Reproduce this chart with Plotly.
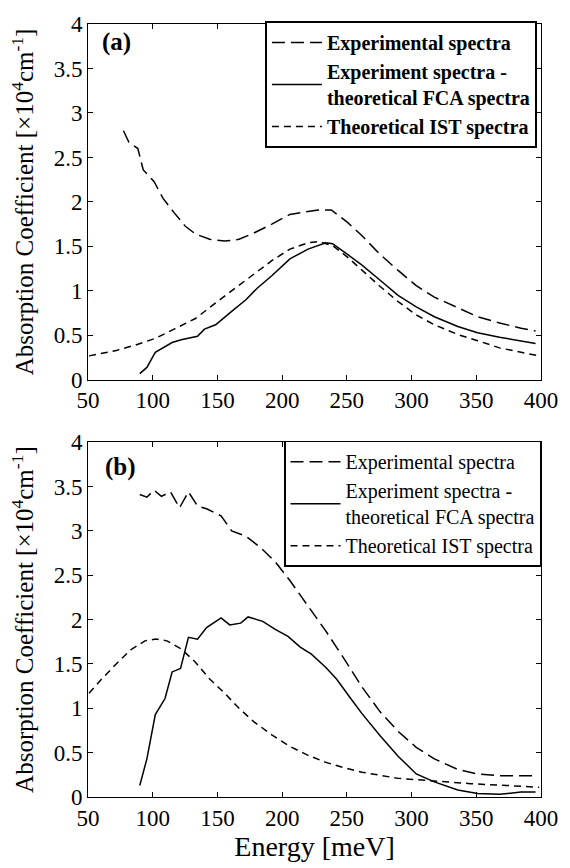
import plotly.graph_objects as go

# ---------------- Data ----------------
# Panel (a)
a_exp_x = [77.4, 81.6, 88.5, 92.7, 101, 108, 116.5, 125, 133, 144, 155.6, 166.7, 178, 192, 206, 220, 228, 238,
           250.5, 261.7, 275.7, 289.6, 303.6, 317.6, 335.7, 351, 368, 384.6, 395.8]
a_exp_y = [2.80, 2.67, 2.60, 2.36, 2.23, 2.04, 1.88, 1.73, 1.64, 1.58, 1.56, 1.58, 1.65, 1.75, 1.86, 1.89, 1.91, 1.91,
           1.77, 1.62, 1.41, 1.23, 1.06, 0.93, 0.81, 0.71, 0.64, 0.58, 0.55]

a_diff_x = [90, 95.5, 102, 108, 115, 122, 134.6, 140, 148.6, 161, 172, 180.7, 192, 206, 220, 233.8, 239,
            250.5, 261.7, 275.7, 289.6, 303.6, 317.6, 335.7, 351, 368, 384.6, 395.8]
a_diff_y = [0.07, 0.14, 0.31, 0.36, 0.42, 0.45, 0.49, 0.57, 0.62, 0.77, 0.90, 1.03, 1.17, 1.36, 1.47, 1.54, 1.53,
            1.41, 1.29, 1.12, 0.95, 0.82, 0.71, 0.60, 0.53, 0.48, 0.44, 0.41]

a_ist_x = [50.8, 71.8, 88.5, 102.5, 116.5, 133, 150, 164, 178, 192, 206, 220, 228, 239, 250.5, 261.7, 275.7,
           289.6, 303.6, 317.6, 335.7, 351, 368, 384.6, 398.6]
a_ist_y = [0.27, 0.33, 0.40, 0.47, 0.57, 0.69, 0.88, 1.03, 1.19, 1.34, 1.47, 1.54, 1.555, 1.51, 1.38, 1.23, 1.05,
           0.88, 0.73, 0.62, 0.51, 0.44, 0.36, 0.31, 0.27]

# Panel (b)
b_exp_x = [90, 95.5, 101, 106.7, 113.7, 120.7, 127.6, 134.6, 141.6, 152.8, 161, 172, 183.5, 194.7, 206, 220,
           233.8, 247.8, 261.7, 275.7, 289.6, 303.6, 317.6, 335.7, 351, 368, 395.8]
b_exp_y = [3.41, 3.38, 3.46, 3.39, 3.44, 3.26, 3.44, 3.28, 3.25, 3.17, 3.00, 2.94, 2.81, 2.65, 2.44, 2.15,
           1.87, 1.56, 1.24, 0.96, 0.74, 0.56, 0.43, 0.31, 0.26, 0.24, 0.24]

b_diff_x = [90, 95.5, 102, 109.5, 115, 121.5, 127.6, 134.6, 141.6, 152.8, 159.5, 168, 173.7, 185, 194.7, 204.5,
            214, 222.6, 233.8, 242, 253, 261.7, 275.7, 289.6, 303.6, 317.6, 335.7, 351, 368, 384.6, 395.8]
b_diff_y = [0.13, 0.43, 0.93, 1.11, 1.41, 1.45, 1.80, 1.78, 1.91, 2.02, 1.94, 1.96, 2.03, 1.98, 1.89, 1.81,
            1.69, 1.61, 1.46, 1.33, 1.11, 0.94, 0.69, 0.46, 0.26, 0.17, 0.08, 0.04, 0.03, 0.055, 0.055]

b_ist_x = [50.8, 60.6, 71.8, 83, 94, 102.5, 111, 122, 133, 144, 155.6, 166.7, 178, 192, 206, 220, 233.8, 247.8,
           261.7, 289.6, 317.6, 345.5, 373.4, 398.6]
b_ist_y = [1.17, 1.33, 1.50, 1.66, 1.76, 1.78, 1.76, 1.67, 1.52, 1.33, 1.17, 1.00, 0.85, 0.70, 0.57, 0.47, 0.39, 0.33,
           0.28, 0.21, 0.18, 0.15, 0.13, 0.11]

names = ["Experimental spectra", "Experiment spectra -<br>theoretical FCA spectra", "Theoretical IST spectra"]
x_ticks = [50, 100, 150, 200, 250, 300, 350, 400]
y_ticks = [0, 0.5, 1, 1.5, 2, 2.5, 3, 3.5, 4]
y_tick_labels = ["0", "0.5", "1", "1.5", "2", "2.5", "3", "3.5", "4"]

# ---------------- Figure ----------------
SERIF = "Liberation Serif"
LONG = "13px,6px"
SHORT = "7px,5px"
LW = 1.5

fig = go.Figure()


def add_panel(xs, ys, xa, ya, legend):
    styles = [dict(color="black", width=LW, dash=LONG),
              dict(color="black", width=LW, dash="solid"),
              dict(color="black", width=LW, dash=SHORT)]
    for x, y, nm, st in zip(xs, ys, names, styles):
        fig.add_trace(go.Scatter(x=x, y=y, mode="lines", name=nm, line=st,
                                 xaxis=xa, yaxis=ya, legend=legend))


add_panel([a_exp_x, a_diff_x, a_ist_x], [a_exp_y, a_diff_y, a_ist_y], "x", "y", "legend")
add_panel([b_exp_x, b_diff_x, b_ist_x], [b_exp_y, b_diff_y, b_ist_y], "x2", "y2", "legend2")

axis_common = dict(showline=True, linecolor="black", linewidth=1, mirror="ticks",
                   ticks="inside", ticklen=5, tickcolor="black", showgrid=False, zeroline=False,
                   tickfont=dict(family=SERIF, size=23, color="black"))

ytitle = "Absorption Coefficient [×10<sup>4</sup>cm<sup>-1</sup>]"

fig.update_layout(
    width=570, height=868,
    margin=dict(l=88, r=28, t=15, b=71),
    paper_bgcolor="white", plot_bgcolor="white",
    font=dict(family=SERIF, color="black"),
    xaxis=dict(domain=[0, 1], range=[50, 400], tickvals=x_ticks, anchor="y", **axis_common),
    yaxis=dict(domain=[0.5396, 1], range=[0, 4], tickvals=y_ticks, ticktext=y_tick_labels, anchor="x",
               title=dict(text=ytitle, font=dict(family=SERIF, size=25), standoff=12), **axis_common),
    xaxis2=dict(domain=[0, 1], range=[50, 400], tickvals=x_ticks, anchor="y2",
                title=dict(text="Energy [meV]", font=dict(family=SERIF, size=28), standoff=6), **axis_common),
    yaxis2=dict(domain=[0, 0.459], range=[0, 4], tickvals=y_ticks, ticktext=y_tick_labels, anchor="x2",
                title=dict(text=ytitle, font=dict(family=SERIF, size=25), standoff=12), **axis_common),
    legend=dict(x=0.991, y=1.004, xanchor="right", yanchor="top",
                bordercolor="black", borderwidth=2, bgcolor="white",
                font=dict(family=SERIF, size=20, color="black", weight="bold"),
                tracegroupgap=0, itemwidth=50),
    legend2=dict(x=1.0, y=0.461, xanchor="right", yanchor="top",
                 bordercolor="black", borderwidth=1.5, bgcolor="white",
                 font=dict(family=SERIF, size=20, color="black"),
                 tracegroupgap=0, itemwidth=50),
    showlegend=True,
)

fig.add_annotation(x=72, y=3.8, xref="x", yref="y", text="<b>(a)</b>", showarrow=False,
                   font=dict(family=SERIF, size=25, color="black"))
fig.add_annotation(x=75, y=3.72, xref="x2", yref="y2", text="<b>(b)</b>", showarrow=False,
                   font=dict(family=SERIF, size=25, color="black"))

fig.write_html("out.html")
